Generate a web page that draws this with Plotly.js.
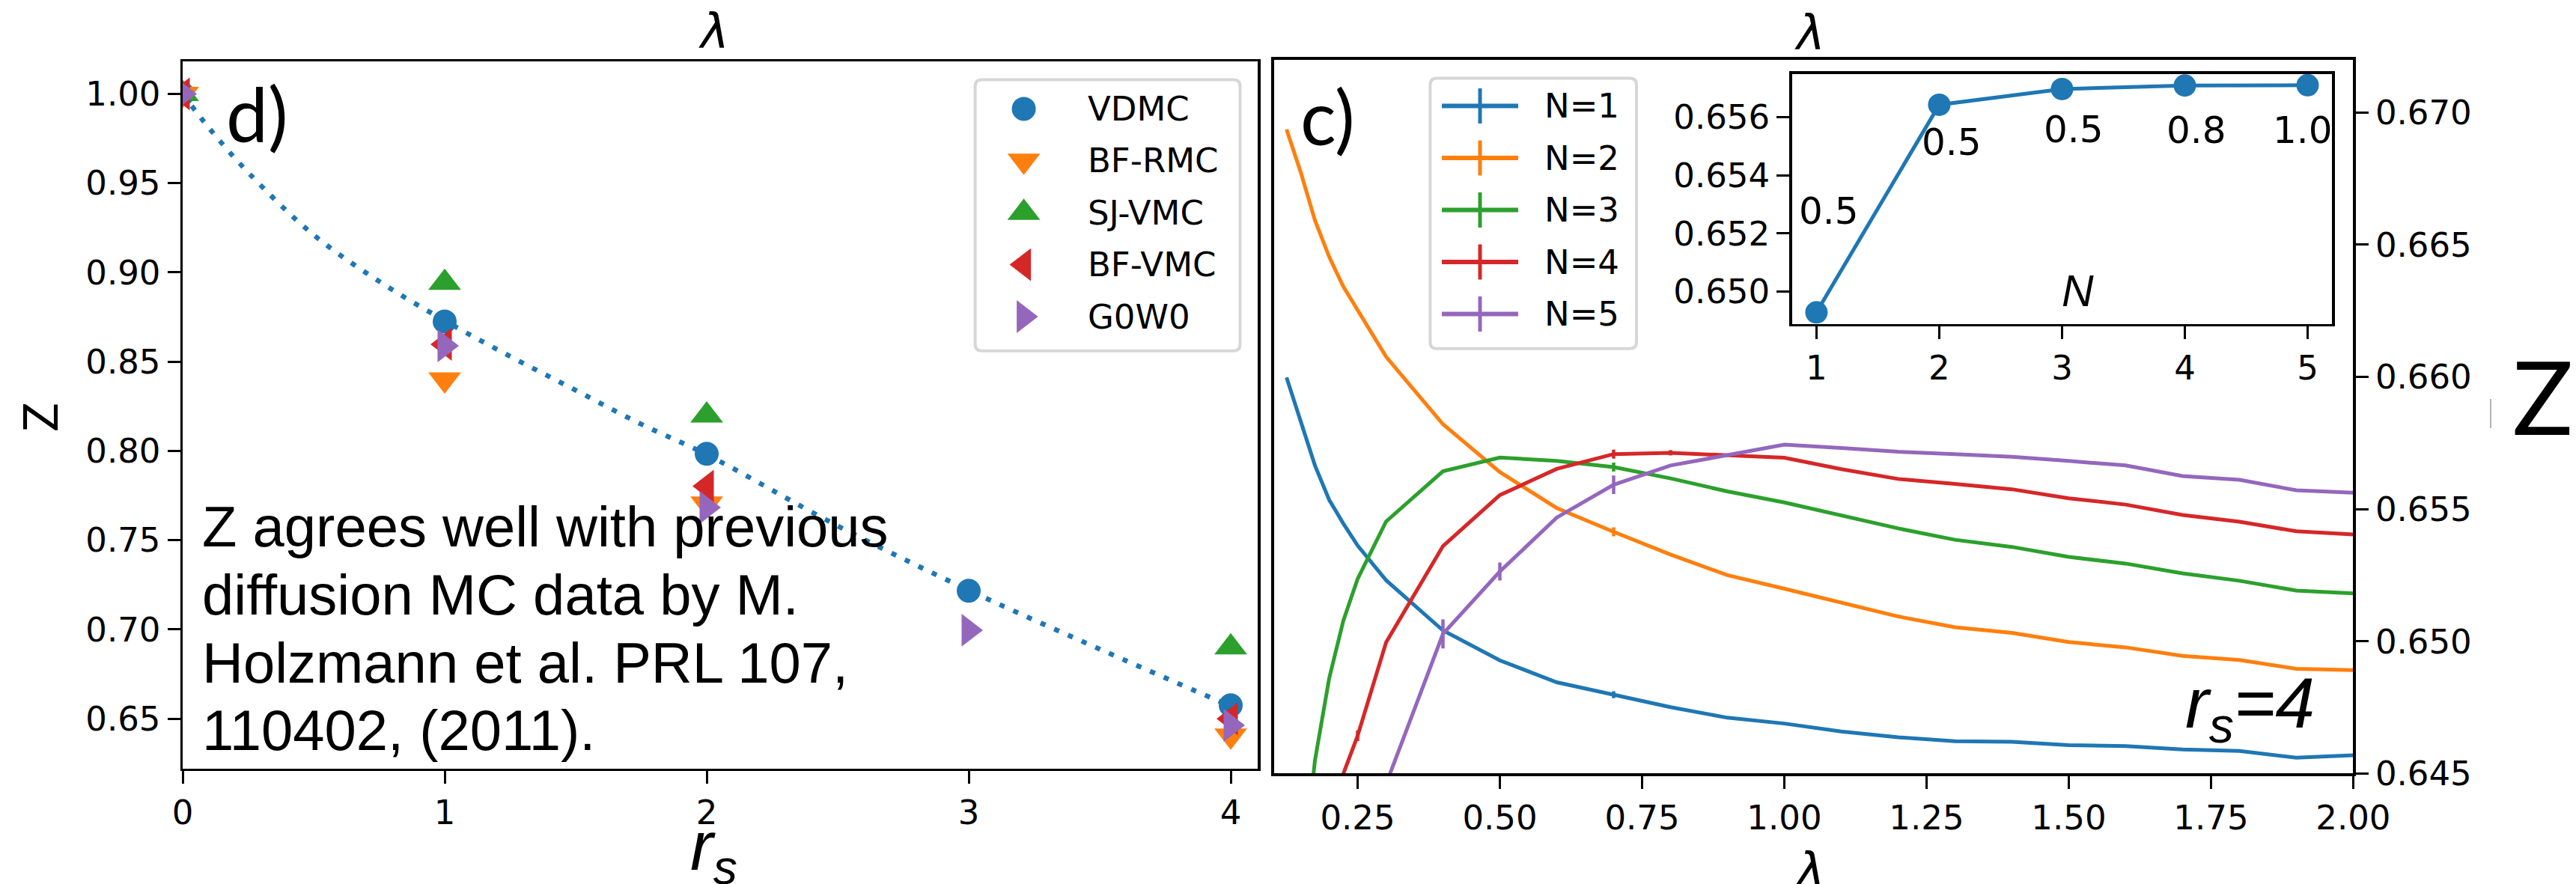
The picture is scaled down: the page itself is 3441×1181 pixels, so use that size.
<!DOCTYPE html>
<html><head><meta charset="utf-8">
<script src="https://cdn.plot.ly/plotly-3.0.1.min.js"></script>
<style>html,body{margin:0;padding:0;background:#fff}</style>
</head><body><div id="chart" style="width:3441px;height:1181px"></div>
<script>
// ---------------- DATA ----------------
// panel d): Z vs r_s
const methodNames = ['VDMC', 'BF-RMC', 'SJ-VMC', 'BF-VMC', 'G0W0'];
const rsVDMC = [0, 1, 2, 3, 4];
const zVDMC = [1.000, 0.8725, 0.7984, 0.7217, 0.6575];
const rsBFRMC = [0, 1, 2, 4];
const zBFRMC = [1.000, 0.8400, 0.7705, 0.6405];
const rsSJVMC = [0, 1, 2, 4];
const zSJVMC = [1.000, 0.8942, 0.8199, 0.6900];
const rsBFVMC = [0, 1, 2, 4];
const zBFVMC = [1.000, 0.8597, 0.7803, 0.6500];
const rsG0W0 = [0, 1, 2, 3, 4];
const zG0W0 = [1.000, 0.8589, 0.7683, 0.6996, 0.6463];
// dotted guide curve (diffusion MC data)
const rsDMC = [0, 0.1, 0.25, 0.5, 0.75, 1, 1.25, 1.5, 1.75, 2, 2.5, 3, 3.5, 4];
const zDMC = [1.000, 0.981, 0.956, 0.921, 0.895, 0.873, 0.853, 0.834, 0.815, 0.798, 0.758, 0.722, 0.689, 0.657];
const dXTicks = [0, 1, 2, 3, 4];
const dYTicks = [0.65, 0.70, 0.75, 0.80, 0.85, 0.90, 0.95, 1.00];

// panel c): Z vs lambda at r_s = 4, for N = 1..5
const seriesNames = ['N=1', 'N=2', 'N=3', 'N=4', 'N=5'];
const lambdaGrid = [0.125, 0.15, 0.175, 0.2, 0.225, 0.25, 0.3, 0.4, 0.5, 0.6, 0.7, 0.8, 0.9, 1.0, 1.1, 1.2, 1.3, 1.4, 1.5, 1.6, 1.7, 1.8, 1.9, 2.0];
const zN1 = [0.65998, 0.65830, 0.65665, 0.65535, 0.65445, 0.65362, 0.65231, 0.65041, 0.64928, 0.64845, 0.64798, 0.64751, 0.64711, 0.64689, 0.64659, 0.64637, 0.64622, 0.64620, 0.64607, 0.64604, 0.64591, 0.64585, 0.64560, 0.64569];
const zN2 = [0.66936, 0.66774, 0.66592, 0.66454, 0.66341, 0.66254, 0.66076, 0.65821, 0.65640, 0.65504, 0.65414, 0.65328, 0.65250, 0.65199, 0.65146, 0.65094, 0.65053, 0.65032, 0.64997, 0.64977, 0.64945, 0.64929, 0.64896, 0.64891];
const zN3 = [null, 0.6405, 0.6455, 0.64860, 0.65079, 0.65236, 0.65453, 0.65643, 0.65695, 0.65682, 0.65659, 0.65616, 0.65567, 0.65525, 0.65475, 0.65427, 0.65384, 0.65357, 0.65319, 0.65294, 0.65257, 0.65229, 0.65192, 0.65181];
const zN4 = [null, null, null, 0.6428, 0.6450, 0.64643, 0.64996, 0.65360, 0.65553, 0.65652, 0.65708, 0.65713, 0.65704, 0.65694, 0.65651, 0.65614, 0.65595, 0.65575, 0.65541, 0.65517, 0.65478, 0.65452, 0.65416, 0.65404];
const zN5 = [null, null, null, null, null, null, 0.6446, 0.65028, 0.65264, 0.65468, 0.65592, 0.65665, 0.65704, 0.65744, 0.65731, 0.65717, 0.65708, 0.65698, 0.65682, 0.65665, 0.65625, 0.65611, 0.65571, 0.65562];
const errN1 = [0, 0, 0, 0, 0, 0, 0, 0, 0, 0, 0.00013, 0, 0, 0, 0, 0, 0, 0, 0, 0, 0, 0, 0, 0];
const errN2 = [0, 0, 0, 0, 0, 0, 0, 0, 0, 0, 0.00017, 0, 0, 0, 0, 0, 0, 0, 0, 0, 0, 0, 0, 0];
const errN3 = [0, 0, 0, 0, 0, 0, 0, 0, 0, 0, 0.00017, 0, 0, 0, 0, 0, 0, 0, 0, 0, 0, 0, 0, 0];
const errN4 = [0, 0, 0, 0, 0, 0.0002, 0, 0, 0, 0, 0.00017, 0.0001, 0, 0, 0, 0, 0, 0, 0, 0, 0, 0, 0, 0];
const errN5 = [0, 0, 0, 0, 0, 0, 0, 0.00055, 0.00034, 0, 0.00035, 0, 0, 0, 0, 0, 0, 0, 0, 0, 0, 0, 0, 0];
const cXTicks = [0.25, 0.50, 0.75, 1.00, 1.25, 1.50, 1.75, 2.00];
const cYTicks = [0.645, 0.650, 0.655, 0.660, 0.665, 0.670];

// inset: best Z vs N, with optimal lambda labels
const insetN = [1, 2, 3, 4, 5];
const insetZ = [0.64929, 0.65642, 0.65696, 0.65708, 0.65709];
const insetLambdaLabels = ['0.5', '0.5', '0.5', '0.8', '1.0'];
const insetYTicks = [0.650, 0.652, 0.654, 0.656];

// ---------------- STYLE / LAYOUT ----------------
const W = 3441, H = 1181;
const fx = p => p / W, fy = p => 1 - p / H;
const colors = ['#1f77b4', '#ff7f0e', '#2ca02c', '#d62728', '#9467bd'];
const methodSymbols = ['circle', 'triangle-down', 'triangle-up', 'triangle-left', 'triangle-right'];
const methodSizes = [32, 38, 38, 38, 38];
const tickFont = {family: 'DejaVu Sans', size: 45, color: '#000'};
const axBase = {showgrid: false, zeroline: false, showline: true, linecolor: '#000', linewidth: 3.5,
  mirror: true, ticks: 'outside', ticklen: 17, tickwidth: 3, tickcolor: '#000', tickfont: tickFont,
  fixedrange: true};

const traces = [];
traces.push({x: rsDMC, y: zDMC, mode: 'lines', xaxis: 'x', yaxis: 'y', hoverinfo: 'skip',
  line: {color: colors[0], width: 6.5, dash: '7px,13px', shape: 'spline', smoothing: 1}});
const mX = [rsVDMC, rsBFRMC, rsSJVMC, rsBFVMC, rsG0W0];
const mY = [zVDMC, zBFRMC, zSJVMC, zBFVMC, zG0W0];
methodNames.forEach((nm, i) => {
  traces.push({x: mX[i], y: mY[i], name: nm, mode: 'markers', xaxis: 'x', yaxis: 'y',
    marker: {symbol: methodSymbols[i], size: methodSizes[i], color: colors[i], opacity: 1, line: {width: 0}}});
});
const cY = [zN1, zN2, zN3, zN4, zN5];
const cE = [errN1, errN2, errN3, errN4, errN5];
seriesNames.forEach((nm, i) => {
  traces.push({x: lambdaGrid, y: cY[i], name: nm, mode: 'lines', xaxis: 'x2', yaxis: 'y2',
    line: {color: colors[i], width: 5},
    error_y: {type: 'data', array: cE[i], visible: true, color: colors[i], thickness: 4.5, width: 0}});
});
traces.push({x: insetN, y: insetZ, mode: 'lines+markers', xaxis: 'x3', yaxis: 'y3',
  line: {color: colors[0], width: 5}, marker: {size: 30, color: colors[0], opacity: 1}});

// custom legend glyphs (pixel overlay axis)
const legL = {x0: 1302.6, y0: 106.4, x1: 1656.5, y1: 468.8, mx: 1367.6, tx: 1451, ey0: 145.4, dy: 69.4};
const legR = {x0: 1910.4, y0: 104.5, x1: 2186, y1: 465.8, lx0: 1926, lx1: 2028, tx: 2061, ey0: 141.5, dy: 69.5};
traces.push({x: methodNames.map(() => legL.mx), y: methodNames.map((_, i) => legL.ey0 + i * legL.dy),
  mode: 'markers', xaxis: 'x4', yaxis: 'y4', cliponaxis: false, hoverinfo: 'skip',
  marker: {symbol: methodSymbols, size: methodSizes, color: colors, opacity: 1, line: {width: 0}}});

function rrect(x0, y0, x1, y1, r) {
  return `M${x0 + r},${y0} L${x1 - r},${y0} Q${x1},${y0} ${x1},${y0 + r} L${x1},${y1 - r} Q${x1},${y1} ${x1 - r},${y1} L${x0 + r},${y1} Q${x0},${y1} ${x0},${y1 - r} L${x0},${y0 + r} Q${x0},${y0} ${x0 + r},${y0} Z`;
}
const shapes = [];
[legL, legR].forEach(L => shapes.push({type: 'path', xref: 'x4', yref: 'y4', layer: 'above',
  path: rrect(L.x0, L.y0, L.x1, L.y1, 9), line: {color: '#d7d7d7', width: 4}, fillcolor: 'rgba(255,255,255,0)'}));
seriesNames.forEach((nm, i) => {
  const y = legR.ey0 + i * legR.dy;
  shapes.push({type: 'line', xref: 'x4', yref: 'y4', layer: 'above', x0: legR.lx0, x1: legR.lx1, y0: y, y1: y,
    line: {color: colors[i], width: 6}});
  shapes.push({type: 'line', xref: 'x4', yref: 'y4', layer: 'above', x0: (legR.lx0 + legR.lx1) / 2, x1: (legR.lx0 + legR.lx1) / 2,
    y0: y - 23.5, y1: y + 23.5, line: {color: colors[i], width: 5}});
});
shapes.push({type: 'line', xref: 'x4', yref: 'y4', layer: 'above', x0: 3327, x1: 3327, y0: 533, y1: 572,
  line: {color: '#9a9a9a', width: 1.5}});

const ann = [];
function A(text, x, y, opts) {
  ann.push(Object.assign({text: text, x: x, y: y, xref: 'x4', yref: 'y4', showarrow: false,
    xanchor: 'center', yanchor: 'middle', font: {family: 'DejaVu Sans', size: 45, color: '#000'}}, opts || {}));
}
methodNames.forEach((nm, i) => A(nm, legL.tx, legL.ey0 + i * legL.dy, {xanchor: 'left'}));
seriesNames.forEach((nm, i) => A(nm, legR.tx, legR.ey0 + i * legR.dy, {xanchor: 'left'}));
const geo = 'Lato';
A('d)', 300, 151, {xanchor: 'left', font: {family: geo, size: 100, color: '#000'}});
A('c)', 1735, 155, {xanchor: 'left', font: {family: geo, size: 100, color: '#000'}});
A('Z', 3396.5, 529, {font: {family: geo, size: 135, color: '#000'}});
A('Z', 51.6, 557, {textangle: -90, font: {family: geo, size: 64, color: '#000'}});
A('<i>λ</i>', 953, 42, {font: {family: 'DejaVu Sans', size: 64, color: '#000'}});
A('<i>λ</i>', 2417.7, 44, {font: {family: 'DejaVu Sans', size: 64, color: '#000'}});
A('<i>λ</i>', 2417.7, 1163, {font: {family: 'DejaVu Sans', size: 64, color: '#000'}});
A('<i>r</i><sub><i>s</i></sub>', 953, 1137, {font: {family: 'Liberation Sans', size: 92, color: '#000'}});
A('<i>r</i><sub><i>s</i></sub><i>=4</i>', 3005, 946, {font: {family: 'Liberation Sans', size: 95, color: '#000'}});
A('<i>N</i>', 2775, 389, {font: {family: 'Liberation Sans', size: 59, color: '#000'}});
const noteLines = ['Z agrees well with previous', 'diffusion MC data by M.', 'Holzmann et al. PRL 107,', '110402, (2011).'];
noteLines.forEach((t, i) => A(t, 268, 703.6 + i * 90.7, {xanchor: 'left', font: {family: 'Liberation Sans', size: 76, color: '#000'}}));
// inset labels (anchored to the data points)
const insetShift = [[17, 135], [17, -50], [16, -54], [16, -60], [-7, -60]];
insetN.forEach((n, i) => ann.push({text: insetLambdaLabels[i], x: n, y: insetZ[i], xref: 'x3', yref: 'y3',
  showarrow: false, xanchor: 'center', yanchor: 'middle', xshift: insetShift[i][0], yshift: insetShift[i][1],
  font: {family: 'DejaVu Sans', size: 50, color: '#000'}}));

const layout = {
  width: W, height: H, margin: {l: 0, r: 0, t: 0, b: 0}, paper_bgcolor: '#fff', plot_bgcolor: 'rgba(0,0,0,0)',
  showlegend: false, hovermode: false,
  xaxis: Object.assign({}, axBase, {domain: [fx(244), fx(1680.4)], range: [0, 4.104], tickvals: dXTicks, ticktext: dXTicks.map(String), anchor: 'y'}),
  yaxis: Object.assign({}, axBase, {domain: [fy(1026.5), fy(82.3)], range: [0.6222, 1.0181], tickvals: dYTicks, tickformat: '.2f', anchor: 'x'}),
  xaxis2: Object.assign({}, axBase, {domain: [fx(1701.8), fx(3143.4)], range: [0.103, 2.0], tickvals: cXTicks, tickformat: '.2f', anchor: 'y2'}),
  yaxis2: Object.assign({}, axBase, {domain: [fy(1033.4), fy(79.6)], range: [0.645, 0.672], tickvals: cYTicks, tickformat: '.3f', side: 'right', anchor: 'x2'}),
  xaxis3: Object.assign({}, axBase, {domain: [fx(2393.6), fx(3115.3)], range: [0.8, 5.2], tickvals: insetN, anchor: 'y3'}),
  yaxis3: Object.assign({}, axBase, {domain: [fy(432.5), fy(98.7)], range: [0.6489, 0.65748], tickvals: insetYTicks, tickformat: '.3f', anchor: 'x3'}),
  xaxis4: {domain: [0, 1], range: [0, W], visible: false, fixedrange: true, anchor: 'y4'},
  yaxis4: {domain: [0, 1], range: [H, 0], visible: false, fixedrange: true, anchor: 'x4'},
  shapes: shapes,
  annotations: ann
};
Plotly.newPlot('chart', traces, layout, {staticPlot: true, displayModeBar: false});
</script>
</body></html>
